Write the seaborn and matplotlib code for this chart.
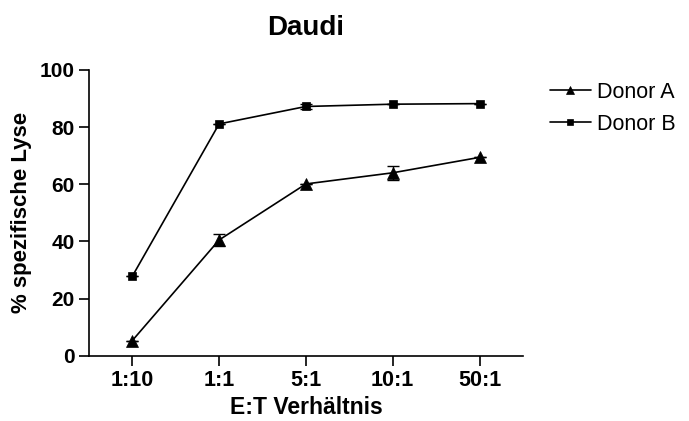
import matplotlib
matplotlib.use("Agg")
import matplotlib.pyplot as plt
import seaborn as sns
import pandas as pd
import numpy as np

categories = ["1:10", "1:1", "5:1", "10:1", "50:1"]
donor_a = [5.3, 40.5, 60.1, 64.0, 69.4]
donor_a_err = [0.0, 2.0, 0.0, 2.5, 0.0]
donor_b = [27.8, 81.1, 87.2, 88.0, 88.2]
donor_b_err = [0.0, 0.0, 1.0, 0.0, 0.0]
series_names = ["Donor A", "Donor B"]
yticks = [0, 20, 40, 60, 80, 100]

sns.set_theme(style="ticks")
plt.rcParams['font.family'] = ['Liberation Sans', 'DejaVu Sans']
plt.rcParams['text.color'] = 'black'
plt.rcParams['axes.labelcolor'] = 'black'

df = pd.DataFrame({
    "x": list(range(len(categories))) * 2,
    "y": donor_a + donor_b,
    "err": donor_a_err + donor_b_err,
    "series": [series_names[0]] * len(categories) + [series_names[1]] * len(categories),
})

fig = plt.figure(figsize=(6.89, 4.21), dpi=100)
ax = fig.add_axes([0.129, 0.155, 0.630, 0.679])

sns.lineplot(data=df, x="x", y="y", hue="series", style="series",
             markers={"Donor A": "^", "Donor B": "s"}, dashes=False,
             palette={"Donor A": "black", "Donor B": "black"},
             markersize=7, linewidth=1.2, markeredgecolor="black",
             markeredgewidth=0.5, ax=ax, legend=True)

for ln in ax.lines:
    if ln.get_marker() == "^":
        ln.set_markersize(8)
    elif ln.get_marker() == "s":
        ln.set_markersize(5.5)

for name in series_names:
    sub = df[df.series == name]
    ax.errorbar(sub.x, sub.y, yerr=sub.err, fmt="none", ecolor="black",
                elinewidth=1.0, capsize=4, capthick=1.0)

ax.set_xlim(-0.5, 4.5)
ax.set_ylim(0, 100)
ax.set_xticks(range(len(categories)))
ax.set_xticklabels(categories, fontsize=15.5, fontweight="bold", color="black")
ax.set_yticks(yticks)
ax.set_yticklabels([str(t) for t in yticks], fontsize=15, fontweight="bold", color="black")
ax.tick_params(axis="both", direction="out", length=7, width=1.2, colors="black", pad=3)
for s in ["left", "bottom"]:
    ax.spines[s].set_linewidth(1.2)
    ax.spines[s].set_color("black")
sns.despine(ax=ax)

ax.set_xlabel("E:T Verhältnis", fontsize=16.5, fontweight="bold", labelpad=4, color="black")
ax.set_ylabel("% spezifische Lyse", fontsize=16, fontweight="bold", labelpad=6, color="black")
ax.set_title("Daudi", fontsize=20, fontweight="bold", pad=25, color="black")

leg = ax.legend(loc="upper left", bbox_to_anchor=(1.062, 0.958), frameon=False,
                fontsize=15.5, handlelength=1.9, handletextpad=0.3, labelspacing=0.5,
                borderaxespad=0, borderpad=0)
for t in leg.get_texts():
    t.set_color("black")
for h in leg.legend_handles:
    h.set_markeredgecolor("black")
    if h.get_marker() == "^":
        h.set_markersize(6)
    else:
        h.set_markersize(4.5)

fig.savefig("out.png", dpi=100)
